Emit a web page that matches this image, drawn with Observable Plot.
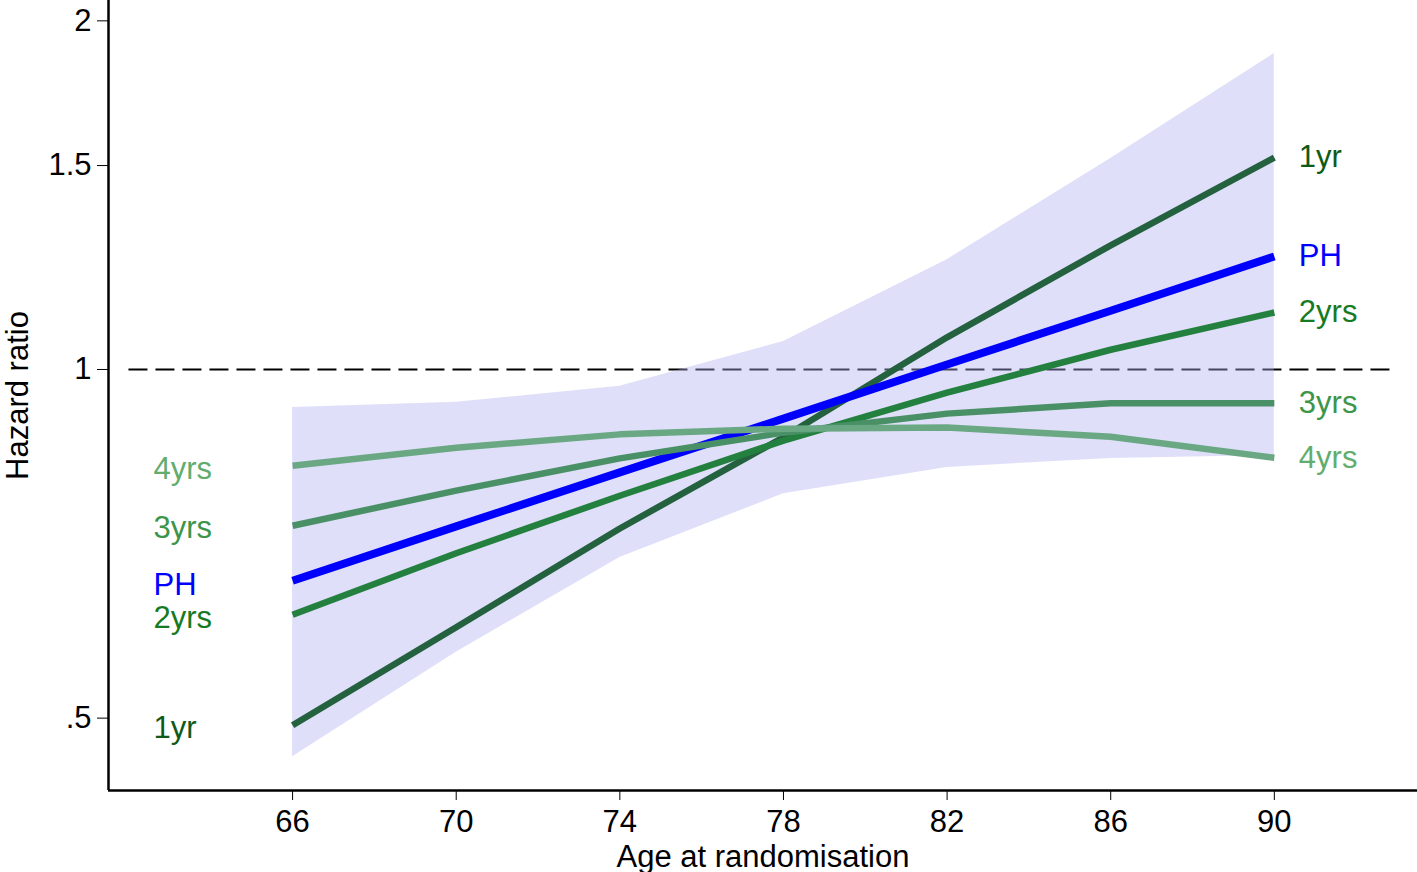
<!DOCTYPE html>
<html>
<head>
<meta charset="utf-8">
<script src="https://cdn.jsdelivr.net/npm/d3@7"></script>
<script src="https://cdn.jsdelivr.net/npm/@observablehq/plot@0.6"></script>
<style>
  html, body { margin: 0; padding: 0; background: #fff; }
  #chart svg { display: block; }
</style>
</head>
<body>
<div id="chart"></div>
<script>
const ages = [66, 70, 74, 78, 82, 86, 90];
const hr1yr  = [0.493, 0.599, 0.729, 0.874, 1.066, 1.280, 1.524];
const hrPH   = [0.657, 0.732, 0.815, 0.907, 1.010, 1.124, 1.252];
const hr2yrs = [0.614, 0.694, 0.778, 0.868, 0.955, 1.040, 1.120];
const hr3yrs = [0.733, 0.786, 0.838, 0.882, 0.916, 0.935, 0.935];
const hr4yrs = [0.826, 0.856, 0.879, 0.889, 0.891, 0.875, 0.839];
const ciLower = [0.463, 0.570, 0.688, 0.781, 0.823, 0.838, 0.843];
const ciUpper = [0.927, 0.937, 0.967, 1.057, 1.244, 1.521, 1.874];

const seriesNames = ["1yr", "PH", "2yrs", "3yrs", "4yrs"];
const seriesValues = [hr1yr, hrPH, hr2yrs, hr3yrs, hr4yrs];
const lineColors = ["#24613f", "#0000ff", "#23803f", "#4a9066", "#6aa884"];
const textColors = ["#0f5a17", "#0000ff", "#167a22", "#3c9549", "#62ad6e"];
const lineWidths = [6.5, 8, 6.5, 6.5, 6.5];
// left-side label heights (hazard ratio scale)
const leftLabelY = [0.490, 0.651, 0.6095, 0.729, 0.820];

const yTicks = [0.5, 1, 1.5, 2];
const xTicks = [66, 70, 74, 78, 82, 86, 90];

const xDomain = [61.5, 93.5];
const yDomain = [0.433, 2.0826];

const band = ages.map((a, i) => ({age: a, lo: ciLower[i], hi: ciUpper[i]}));
const lines = seriesNames.flatMap((s, k) => ages.map((a, i) => ({series: s, age: a, hr: seriesValues[k][i]})));
const rightLabels = seriesNames.map((s, k) => ({series: s, age: 90.6, hr: seriesValues[k][seriesValues[k].length - 1]}));
const leftLabels = seriesNames.map((s, k) => ({series: s, age: 62.6, hr: leftLabelY[k]}));

const FONT = "Arial, 'Liberation Sans', Helvetica, sans-serif";
const FS = 31;

const marks = [
  Plot.ruleY([1], {x1: 62.0, x2: 92.96, stroke: "#000", strokeWidth: 2, strokeDasharray: "19,8"}),
  Plot.areaY(band, {x: "age", y1: "lo", y2: "hi", fill: "#aeaef0", fillOpacity: 0.4}),
];
seriesNames.forEach((s, k) => {
  marks.push(Plot.line(lines.filter(d => d.series === s), {x: "age", y: "hr", stroke: lineColors[k], strokeWidth: lineWidths[k], strokeLinecap: "butt", strokeLinejoin: "miter"}));
});
seriesNames.forEach((s, k) => {
  marks.push(Plot.text(rightLabels.filter(d => d.series === s), {x: "age", y: "hr", text: "series", fill: textColors[k], textAnchor: "start", fontSize: FS}));
  marks.push(Plot.text(leftLabels.filter(d => d.series === s), {x: "age", y: "hr", text: "series", fill: textColors[k], textAnchor: "start", fontSize: FS}));
});
marks.push(
  Plot.ruleX([xDomain[0]], {stroke: "#000", strokeWidth: 2.5}),
  Plot.ruleY([yDomain[0]], {stroke: "#000", strokeWidth: 2.5}),
  Plot.axisY({ticks: yTicks, tickFormat: d => d === 0.5 ? ".5" : String(d), tickSize: 11, tickPadding: 6, fontSize: FS, tickStrokeWidth: 2, label: null}),
  Plot.axisX({ticks: xTicks, tickFormat: d => String(d), tickSize: 10, tickPadding: 9, fontSize: FS, label: null}),
  Plot.text(["Hazard ratio"], {frameAnchor: "left", textAnchor: "middle", dx: -90, rotate: -90, fontSize: FS, fill: "#000"}),
  Plot.text(["Age at randomisation"], {frameAnchor: "bottom", dy: 76, fontSize: FS, fill: "#000"})
);

const chart = Plot.plot({
  width: 1417,
  height: 872,
  marginLeft: 108,
  marginRight: 0,
  marginTop: 0,
  marginBottom: 82,
  style: {fontFamily: FONT, background: "#fff", color: "#000"},
  x: {domain: xDomain, axis: null},
  y: {type: "log", domain: yDomain, axis: null},
  marks
});
document.getElementById("chart").appendChild(chart);
</script>
</body>
</html>
